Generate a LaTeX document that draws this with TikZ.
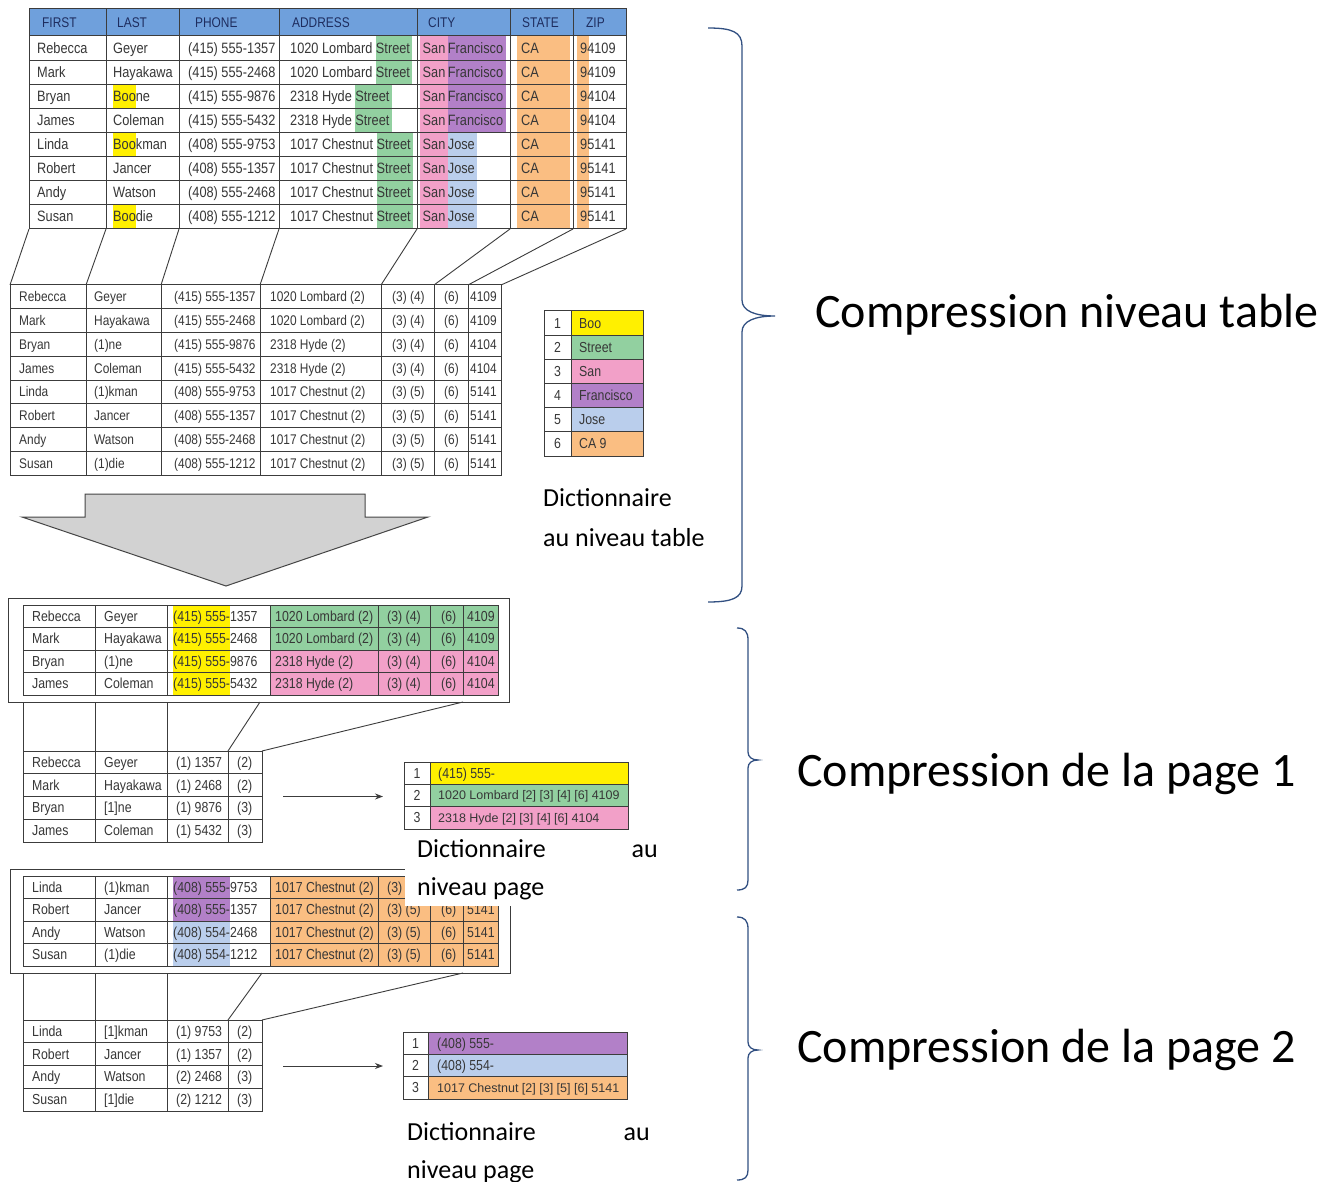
\documentclass[tikz,border=0pt]{standalone}
\usepackage{fontspec}
\setmainfont{Carlito}
\newfontfamily\tabfont[FakeStretch=0.85]{Liberation Sans}
\newfontfamily\tabfontw{Liberation Sans}
\usetikzlibrary{arrows.meta}
\definecolor{hdr}{RGB}{111,160,220}
\definecolor{hdrtxtc}{RGB}{30,45,95}
\definecolor{txtc}{RGB}{55,55,55}
\definecolor{cyel}{RGB}{255,240,0}
\definecolor{cgreen}{RGB}{146,208,160}
\definecolor{cpink}{RGB}{242,160,200}
\definecolor{cpurple}{RGB}{178,128,200}
\definecolor{cblue}{RGB}{186,206,236}
\definecolor{corange}{RGB}{250,190,130}
\definecolor{gridc}{RGB}{60,60,60}
\definecolor{bracec}{RGB}{50,80,130}
\newcommand\hlT[2]{{\setlength{\fboxsep}{0pt}\colorbox{#1}{\rule[-7pt]{0pt}{24pt}#2}}}
\newcommand\hlP[2]{{\setlength{\fboxsep}{0pt}\colorbox{#1}{\rule[-6.25pt]{0pt}{22.5pt}#2}}}
\newcommand\SFc{\hlT{cpink}{\,San\,}\hlT{cpurple}{Francisco\,}}
\newcommand\SJc{\hlT{cpink}{\,San\,}\hlT{cblue}{Jose\,}}
\tikzset{
  cell/.style={anchor=base west, inner sep=0pt, font=\tabfont\fontsize{15}{15}\selectfont, text=txtc},
  cellM/.style={anchor=base west, inner sep=0pt, font=\tabfont\fontsize{14}{14}\selectfont, text=txtc},
  cellS/.style={anchor=base west, inner sep=0pt, font=\tabfont\fontsize{14.5}{14.5}\selectfont, text=txtc},
  cellN/.style={anchor=base, inner sep=0pt, font=\tabfont\fontsize{14.5}{14.5}\selectfont, text=txtc},
  cellW/.style={anchor=base west, inner sep=0pt, font=\tabfontw\fontsize{12.5}{12.5}\selectfont, text=txtc},
  hdrlbl/.style={anchor=base west, inner sep=0pt, font=\tabfont\fontsize{14}{14}\selectfont, text=hdrtxtc},
  grid/.style={draw=gridc, line width=1pt},
  link/.style={draw=gridc, line width=0.9pt},
  brace/.style={draw=bracec, line width=1.3pt},
  bigtxt/.style={anchor=west, inner sep=0pt, font=\fontsize{48}{48}\selectfont, text=black},
  lbl/.style={anchor=base west, inner sep=0pt, font=\fontsize{26}{26}\selectfont, text=black},
  lblr/.style={anchor=base east, inner sep=0pt, font=\fontsize{26}{26}\selectfont, text=black},
  arr/.style={draw=gridc, line width=0.9pt, -{Stealth[length=8pt,width=6pt]}},
}
\newcommand\toprow[8]{%
  \pgfmathsetmacro\yb{36+24.125*(#1-0.5)+5}
  \node[cell] (T#1a) at (37,\yb) {#2};
  \node[cell] (T#1b) at (113,\yb) {#3};
  \node[cell] (T#1c) at (188,\yb) {#4};
  \node[cell] (T#1d) at (290,\yb) {#5};
  \node[cell] (T#1e) at (420,\yb) {#6};
  \node[cell] (T#1f) at (521,\yb) {#7};
  \node[cell] (T#1g) at (580,\yb) {#8};
}
\newcommand\midrow[8]{%
  \pgfmathsetmacro\yb{285+23.75*(#1-0.5)+5}
  \node[cellM] (M#1a) at (19,\yb) {#2};
  \node[cellM] (M#1b) at (94,\yb) {#3};
  \node[cellM] (M#1c) at (174,\yb) {#4};
  \node[cellM] (M#1d) at (270,\yb) {#5};
  \node[cellM] (M#1e) at (392,\yb) {#6};
  \node[cellM] (M#1f) at (444,\yb) {#7};
  \node[cellM] (M#1g) at (470,\yb) {#8};
}
\newcommand\pagerow[9]{%
  \pgfmathsetmacro\yb{#2+11.25+5}
  \node[cellS] (#1a) at (32,\yb) {#3};
  \node[cellS] (#1b) at (104,\yb) {#4};
  \node[cellS] (#1c) at (173,\yb) {#5};
  \node[cellS] (#1d) at (275,\yb) {#6};
  \node[cellS] (#1e) at (387,\yb) {#7};
  \node[cellS] (#1f) at (441,\yb) {#8};
  \node[cellS] (#1g) at (467,\yb) {#9};
}
\newcommand\comprow[6]{%
  \pgfmathsetmacro\yb{#2+11.375+5}
  \node[cellS] (#1a) at (32,\yb) {#3};
  \node[cellS] (#1b) at (104,\yb) {#4};
  \node[cellS] (#1c) at (176,\yb) {#5};
  \node[cellS] (#1d) at (237,\yb) {#6};
}
\begin{document}
\begin{tikzpicture}[x=1pt,y=-1pt]
\useasboundingbox (0,0) rectangle (1336,1182);
\fill[white] (0,0) rectangle (1336,1182);

% ================= top table =================
\fill[hdr] (29,9) rectangle (626,36);
\fill[corange] (517,36) rectangle (570,229);
\fill[corange] (577,36) rectangle (589,229);
\node[hdrlbl] (hF) at (42,28) {FIRST};
\node[hdrlbl] (hL) at (117,28) {LAST};
\node[hdrlbl] (hP) at (195,28) {PHONE};
\node[hdrlbl] (hA) at (292,28) {ADDRESS};
\node[hdrlbl] (hC) at (428,28) {CITY};
\node[hdrlbl] (hS) at (522,28) {STATE};
\node[hdrlbl] (hZ) at (586,28) {ZIP};
\toprow{1}{Rebecca}{Geyer}{(415) 555-1357}{1020 Lombard \hlT{cgreen}{Street\,}}{\SFc}{CA}{94109}
\toprow{2}{Mark}{Hayakawa}{(415) 555-2468}{1020 Lombard \hlT{cgreen}{Street\,}}{\SFc}{CA}{94109}
\toprow{3}{Bryan}{\hlT{cyel}{Boo}ne}{(415) 555-9876}{2318 Hyde \hlT{cgreen}{Street\,}}{\SFc}{CA}{94104}
\toprow{4}{James}{Coleman}{(415) 555-5432}{2318 Hyde \hlT{cgreen}{Street\,}}{\SFc}{CA}{94104}
\toprow{5}{Linda}{\hlT{cyel}{Boo}kman}{(408) 555-9753}{1017 Chestnut \hlT{cgreen}{Street\,}}{\SJc}{CA}{95141}
\toprow{6}{Robert}{Jancer}{(408) 555-1357}{1017 Chestnut \hlT{cgreen}{Street\,}}{\SJc}{CA}{95141}
\toprow{7}{Andy}{Watson}{(408) 555-2468}{1017 Chestnut \hlT{cgreen}{Street\,}}{\SJc}{CA}{95141}
\toprow{8}{Susan}{\hlT{cyel}{Boo}die}{(408) 555-1212}{1017 Chestnut \hlT{cgreen}{Street\,}}{\SJc}{CA}{95141}
\foreach \x in {106,179,279,417,510,573} \draw[grid] (\x,9) -- (\x,229);
\foreach \i in {0,...,8} \draw[grid] (29,{36+24.125*\i}) -- (626,{36+24.125*\i});
\draw[grid] (29,9) rectangle (626,229);

% links top -> middle
\foreach \n/\a/\b in {1/29/10, 2/106/86, 3/179/161, 4/279/260, 5/417/381, 6/510/434, 7/573/468, 8/626/501} {
  \coordinate (tb\n) at (\a,229);
  \coordinate (mt\n) at (\b,285);
  \draw[link] (tb\n) -- (mt\n);
}

% ================= middle table =================
\midrow{1}{Rebecca}{Geyer}{(415) 555-1357}{1020 Lombard (2)}{(3) (4)}{(6)}{4109}
\midrow{2}{Mark}{Hayakawa}{(415) 555-2468}{1020 Lombard (2)}{(3) (4)}{(6)}{4109}
\midrow{3}{Bryan}{(1)ne}{(415) 555-9876}{2318 Hyde (2)}{(3) (4)}{(6)}{4104}
\midrow{4}{James}{Coleman}{(415) 555-5432}{2318 Hyde (2)}{(3) (4)}{(6)}{4104}
\midrow{5}{Linda}{(1)kman}{(408) 555-9753}{1017 Chestnut (2)}{(3) (5)}{(6)}{5141}
\midrow{6}{Robert}{Jancer}{(408) 555-1357}{1017 Chestnut (2)}{(3) (5)}{(6)}{5141}
\midrow{7}{Andy}{Watson}{(408) 555-2468}{1017 Chestnut (2)}{(3) (5)}{(6)}{5141}
\midrow{8}{Susan}{(1)die}{(408) 555-1212}{1017 Chestnut (2)}{(3) (5)}{(6)}{5141}
\foreach \x in {86,161,260,381,434,468} \draw[grid] (\x,285) -- (\x,475);
\foreach \i in {1,...,7} \draw[grid] (10,{285+23.75*\i}) -- (501,{285+23.75*\i});
\draw[grid] (10,285) rectangle (501,475);

% ================= table dictionary =================
\foreach \i/\c/\t in {1/cyel/Boo, 2/cgreen/Street, 3/cpink/San, 4/cpurple/Francisco, 5/cblue/Jose, 6/corange/CA 9} {
  \fill[\c] (571,{311+24.17*(\i-1)}) rectangle (643,{311+24.17*\i});
  \node[cellN] (dn\i) at (557.5,{311+24.17*(\i-0.5)+5}) {\i};
  \node[cellS] (dv\i) at (579,{311+24.17*(\i-0.5)+5}) {\t};
}
\draw[grid] (571,311) -- (571,456);
\foreach \i in {1,...,5} \draw[grid] (544,{311+24.17*\i}) -- (643,{311+24.17*\i});
\draw[grid] (544,311) rectangle (643,456);
\node[lbl] (lab1) at (543,506) {Dictionnaire};
\node[lbl] (lab2) at (543,546) {au niveau table};

% ================= big arrow =================
\filldraw[fill=gray!35, draw=gray!55!black, line width=1pt]
  (85,494) -- (365,494) -- (365,517) -- (428,517) -- (226,586) -- (22,517) -- (85,517) -- cycle;

% ================= page 1 block =================
\fill[cgreen] (270,605) rectangle (498,650);
\fill[cpink] (270,650) rectangle (498,695);
\pagerow{P1r1}{605}{Rebecca}{Geyer}{\hlP{cyel}{(415) 555-}1357}{1020 Lombard (2)}{(3) (4)}{(6)}{4109}
\pagerow{P1r2}{627.5}{Mark}{Hayakawa}{\hlP{cyel}{(415) 555-}2468}{1020 Lombard (2)}{(3) (4)}{(6)}{4109}
\pagerow{P1r3}{650}{Bryan}{(1)ne}{\hlP{cyel}{(415) 555-}9876}{2318 Hyde (2)}{(3) (4)}{(6)}{4104}
\pagerow{P1r4}{672.5}{James}{Coleman}{\hlP{cyel}{(415) 555-}5432}{2318 Hyde (2)}{(3) (4)}{(6)}{4104}
\foreach \x in {95,167,270,378,430,463} \draw[grid] (\x,605) -- (\x,695);
\foreach \i in {1,2,3} \draw[grid] (23,{605+22.5*\i}) -- (498,{605+22.5*\i});
\draw[grid] (23,605) rectangle (498,695);
\draw[grid] (8,598) rectangle (509,702);

% links page 1 -> compressed
\foreach \n/\a/\b in {1/23/23, 2/95/95, 3/167/167} {
  \coordinate (p1b\n) at (\a,702); \coordinate (c1t\n) at (\b,751);
  \draw[link] (p1b\n) -- (c1t\n);
}
\coordinate (p1b4) at (260,702); \coordinate (c1t4) at (228,751);
\coordinate (p1b5) at (463,702); \coordinate (c1t5) at (262,751);
\draw[link] (p1b4) -- (c1t4);
\draw[link] (p1b5) -- (c1t5);

% compressed page 1
\comprow{C1r1}{751}{Rebecca}{Geyer}{(1) 1357}{(2)}
\comprow{C1r2}{773.75}{Mark}{Hayakawa}{(1) 2468}{(2)}
\comprow{C1r3}{796.5}{Bryan}{[1]ne}{(1) 9876}{(3)}
\comprow{C1r4}{819.25}{James}{Coleman}{(1) 5432}{(3)}
\foreach \x in {95,167,228} \draw[grid] (\x,751) -- (\x,842);
\foreach \i in {1,2,3} \draw[grid] (23,{751+22.75*\i}) -- (262,{751+22.75*\i});
\draw[grid] (23,751) rectangle (262,842);
\coordinate (a1s) at (283,796.5); \coordinate (a1e) at (383,796.5);
\draw[arr] (a1s) -- (a1e);

% page 1 dictionary
\fill[cyel] (430,762) rectangle (628,784.3);
\fill[cgreen] (430,784.3) rectangle (628,806.7);
\fill[cpink] (430,806.7) rectangle (628,829);
\node[cellN] (pd1n1) at (417,{762+11.15+5}) {1};
\node[cellN] (pd1n2) at (417,{784.3+11.15+5}) {2};
\node[cellN] (pd1n3) at (417,{806.7+11.15+5}) {3};
\node[cellS] (pd1v1) at (438,{762+11.15+5}) {(415) 555-};
\node[cellW] (pd1v2) at (438,{784.3+11.15+4.5}) {1020 Lombard [2] [3] [4] [6] 4109};
\node[cellW] (pd1v3) at (438,{806.7+11.15+4.5}) {2318 Hyde [2] [3] [4] [6] 4104};
\draw[grid] (430,762) -- (430,829);
\draw[grid] (404,784.3) -- (628,784.3);
\draw[grid] (404,806.7) -- (628,806.7);
\draw[grid] (404,762) rectangle (628,829);

% ================= page 2 block =================
\fill[corange] (270,876) rectangle (498,966);
\pagerow{P2r1}{876}{Linda}{(1)kman}{\hlP{cpurple}{(408) 555-}9753}{1017 Chestnut (2)}{(3)}{}{}
\pagerow{P2r2}{898.5}{Robert}{Jancer}{\hlP{cpurple}{(408) 555-}1357}{1017 Chestnut (2)}{(3) (5)}{(6)}{5141}
\pagerow{P2r3}{921}{Andy}{Watson}{\hlP{cblue}{(408) 554-}2468}{1017 Chestnut (2)}{(3) (5)}{(6)}{5141}
\pagerow{P2r4}{943.5}{Susan}{(1)die}{\hlP{cblue}{(408) 554-}1212}{1017 Chestnut (2)}{(3) (5)}{(6)}{5141}
\foreach \x in {95,167,270,378,430,463} \draw[grid] (\x,876) -- (\x,966);
\foreach \i in {1,2,3} \draw[grid] (23,{876+22.5*\i}) -- (498,{876+22.5*\i});
\draw[grid] (23,876) rectangle (498,966);
\draw[grid] (10,869) rectangle (510,973);

% label page 1 (white box over page 2 block)
\fill[white] (405,835) rectangle (672,906);
\node[lbl] (lp1a) at (417,857) {Dictionnaire};
\node[lblr] (lp1b) at (658,857) {au};
\node[lbl] (lp1c) at (417,895) {niveau page};

% links page 2 -> compressed
\foreach \n/\a/\b in {1/23/23, 2/95/95, 3/167/167} {
  \coordinate (p2b\n) at (\a,973); \coordinate (c2t\n) at (\b,1020);
  \draw[link] (p2b\n) -- (c2t\n);
}
\coordinate (p2b4) at (262,973); \coordinate (c2t4) at (228,1020);
\coordinate (p2b5) at (463,973); \coordinate (c2t5) at (262,1020);
\draw[link] (p2b4) -- (c2t4);
\draw[link] (p2b5) -- (c2t5);

% compressed page 2
\comprow{C2r1}{1020}{Linda}{[1]kman}{(1) 9753}{(2)}
\comprow{C2r2}{1042.75}{Robert}{Jancer}{(1) 1357}{(2)}
\comprow{C2r3}{1065.5}{Andy}{Watson}{(2) 2468}{(3)}
\comprow{C2r4}{1088.25}{Susan}{[1]die}{(2) 1212}{(3)}
\foreach \x in {95,167,228} \draw[grid] (\x,1020) -- (\x,1111);
\foreach \i in {1,2,3} \draw[grid] (23,{1020+22.75*\i}) -- (262,{1020+22.75*\i});
\draw[grid] (23,1020) rectangle (262,1111);
\coordinate (a2s) at (283,1066); \coordinate (a2e) at (383,1066);
\draw[arr] (a2s) -- (a2e);

% page 2 dictionary
\fill[cpurple] (428,1032) rectangle (627,1054.3);
\fill[cblue] (428,1054.3) rectangle (627,1076.7);
\fill[corange] (428,1076.7) rectangle (627,1099);
\node[cellN] (pd2n1) at (415.5,{1032+11.15+5}) {1};
\node[cellN] (pd2n2) at (415.5,{1054.3+11.15+5}) {2};
\node[cellN] (pd2n3) at (415.5,{1076.7+11.15+5}) {3};
\node[cellS] (pd2v1) at (437,{1032+11.15+5}) {(408) 555-};
\node[cellS] (pd2v2) at (437,{1054.3+11.15+5}) {(408) 554-};
\node[cellW] (pd2v3) at (437,{1076.7+11.15+4.5}) {1017 Chestnut [2] [3] [5] [6] 5141};
\draw[grid] (428,1032) -- (428,1099);
\draw[grid] (403,1054.3) -- (627,1054.3);
\draw[grid] (403,1076.7) -- (627,1076.7);
\draw[grid] (403,1032) rectangle (627,1099);
\node[lbl] (lp2a) at (407,1140) {Dictionnaire};
\node[lblr] (lp2b) at (650,1140) {au};
\node[lbl] (lp2c) at (407,1178) {niveau page};

% ================= braces =================
\draw[brace] (708,28) .. controls (732,28) and (742,32) .. (742,46) -- (742,300)
  .. controls (742,311) and (755,316) .. (775,316)
  .. controls (755,316) and (742,321) .. (742,332) -- (742,586)
  .. controls (742,598) and (732,602) .. (708,602);
\draw[brace] (737,628) .. controls (745,628) and (748,632) .. (748,640) -- (748,752)
  .. controls (748,757) and (752,760) .. (758,760)
  .. controls (752,760) and (748,763) .. (748,768) -- (748,880)
  .. controls (748,887) and (745,890) .. (737,890);
\draw[brace] (737,917) .. controls (745,917) and (748,921) .. (748,929) -- (748,1042)
  .. controls (748,1047) and (752,1050) .. (758,1050)
  .. controls (752,1050) and (748,1053) .. (748,1058) -- (748,1170)
  .. controls (748,1177) and (745,1180) .. (737,1180);
\node[bigtxt] (b1) at (815,315) {Compression niveau table};
\node[bigtxt] (b2) at (797,774) {Compression de la page 1};
\node[bigtxt] (b3) at (797,1050) {Compression de la page 2};
\end{tikzpicture}
\end{document}
